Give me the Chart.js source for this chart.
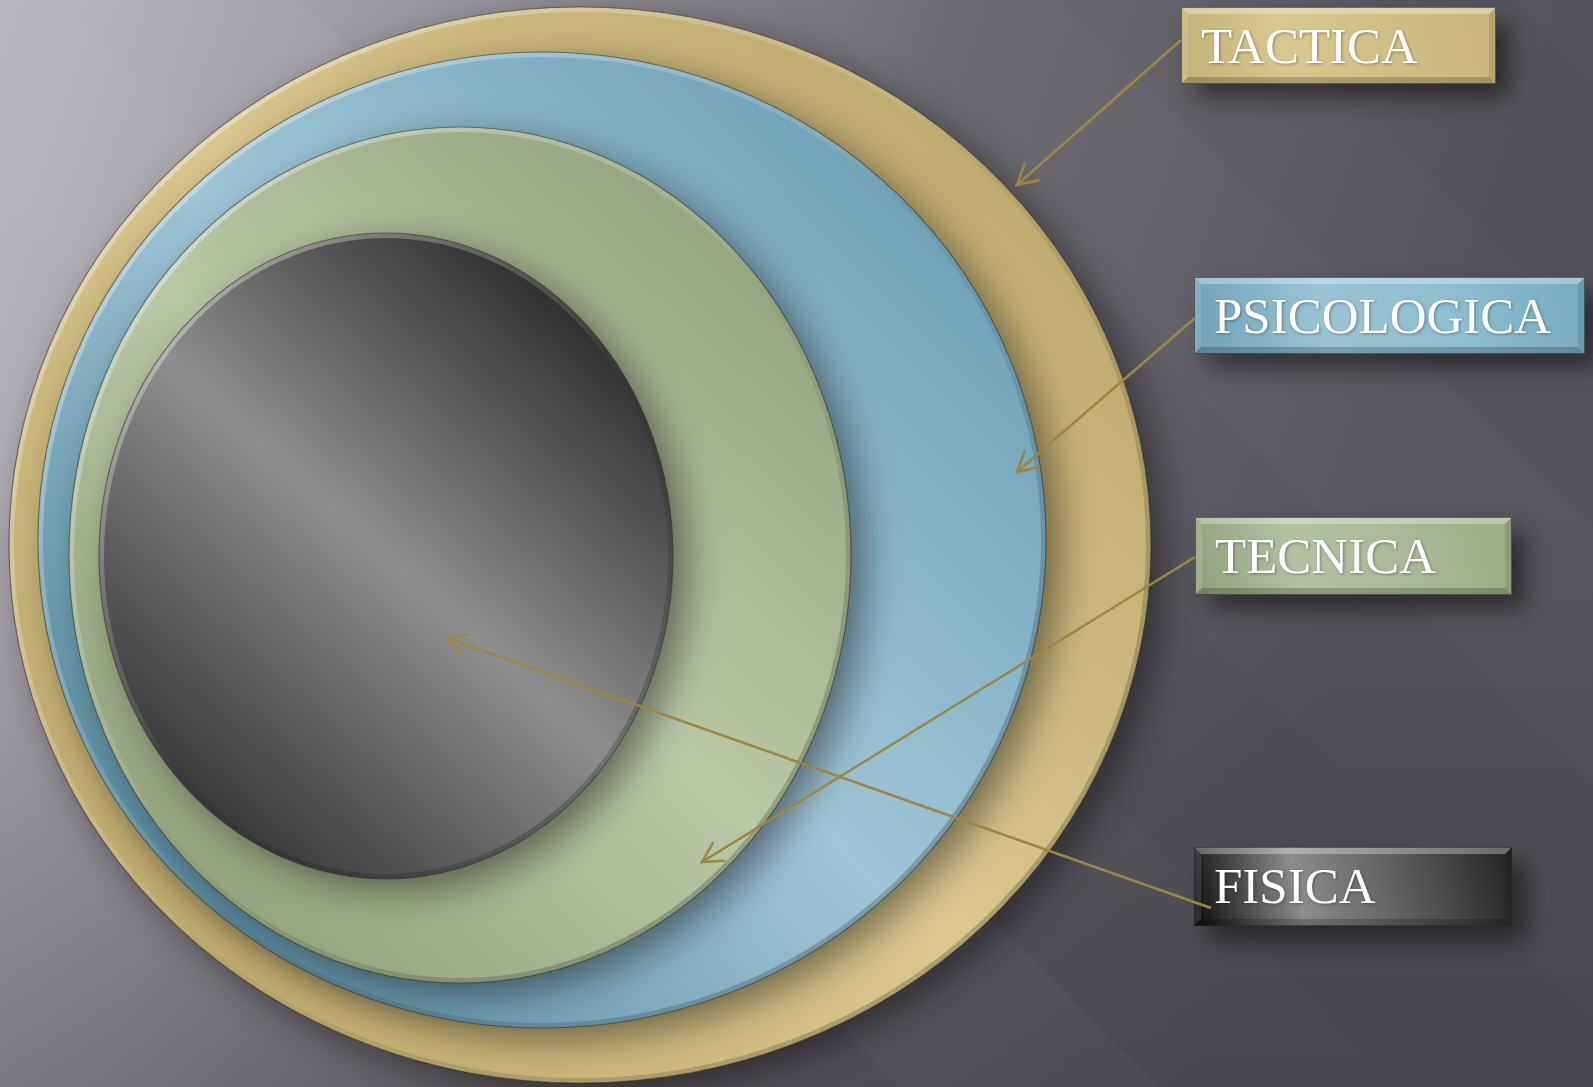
<!DOCTYPE html>
<html>
<head>
<meta charset="utf-8">
<script src="https://cdn.jsdelivr.net/npm/chart.js@4.4.0/dist/chart.umd.min.js"></script>
<style>
  html, body { margin: 0; padding: 0; background: #5a585f; overflow: hidden; }
  #wrap { width: 1593px; height: 1087px; position: relative; }
</style>
</head>
<body>
<div id="wrap"><canvas id="capasChart"></canvas></div>
<script>
// Capas del diagrama, de dentro hacia fuera
const layers = ['FISICA', 'TECNICA', 'PSICOLOGICA', 'TACTICA'];
// Elipses (unidades de la escala: 0..1593 en x, 0..1087 en y)
const centerX = [386, 460, 542, 580];
const centerY = [556, 555, 540, 545];
const radiusX = [287, 391, 504, 571];
const radiusY = [323, 428, 488, 538];
// Flechas: desde la etiqueta hasta la capa
const arrowFromX = [1211, 1195, 1195, 1181];
const arrowFromY = [908, 557, 318, 40];
const arrowToX = [447, 702, 1017, 1017];
const arrowToY = [638, 862, 472, 185];

// Cajas de las etiquetas (posicion / tamano)
const boxLeft = [1194, 1195, 1194, 1181];
const boxTop = [847, 517, 277, 7];
const boxWidth = [318, 317, 391, 315];
const boxHeight = [79, 78, 77, 77];

// Colores de cada capa (degradado)
const layerStops = [
    ['#353535', '#8e8e8e', '#2c2c2c'],
    ['#93a37b', '#bac8a7', '#95a47d'],
    ['#5b8da2', '#a0c6d7', '#6ea2b7'],
    ['#bfab6d', '#dac88f', '#bda96d']
];
const boxStops = [
    ['#0b0b0b', '#8c8c8c', '#5a5a5a', '#232323'],
    ['#8fa07a', '#b4c2a2', '#a9b896', '#9cac87'],
    ['#6ca1b7', '#9ac4d5', '#8dbdd0', '#76abc0'],
    ['#c2b074', '#d7c891', '#d0bf85', '#c8b67a']
];
const arrowColor = '#9b8742';

function ellipsePath(c, x, y, rx, ry) {
    c.beginPath();
    c.ellipse(x, y, rx, ry, 0, 0, Math.PI * 2);
}

const diagramPlugin = {
    id: 'diagrama',
    beforeDraw(chart) {
        const c = chart.ctx, w = chart.width, h = chart.height;
        c.save();
        const bg = c.createLinearGradient(0, 0, 1400, 490);
        bg.addColorStop(0, '#b9b6bd');
        bg.addColorStop(0.3, '#9b98a0');
        bg.addColorStop(0.62, '#6b6970');
        bg.addColorStop(1, '#57555c');
        c.fillStyle = bg;
        c.fillRect(0, 0, w, h);
        // vineta inferior
        const v = c.createLinearGradient(0, 500, 0, h);
        v.addColorStop(0, 'rgba(40,38,45,0)');
        v.addColorStop(1, 'rgba(40,38,45,0.3)');
        c.fillStyle = v;
        c.fillRect(0, 0, w, h);
        // bandas diagonales suaves
        const bands = [[-200, 0.025], [300, -0.02], [800, 0.02], [1250, -0.015]];
        bands.forEach(([off, a]) => {
            c.beginPath();
            c.moveTo(off, 0);
            c.lineTo(off + 260, 0);
            c.lineTo(off + 260 + 1100, h);
            c.lineTo(off + 1100, h);
            c.closePath();
            c.fillStyle = a > 0 ? 'rgba(255,255,255,' + a + ')' : 'rgba(0,0,0,' + (-a) + ')';
            c.fill();
        });
        c.restore();
    },
    beforeDatasetsDraw(chart) {
        const c = chart.ctx;
        const xs = chart.scales.x, ys = chart.scales.y;
        // capas, de fuera hacia dentro
        for (let i = layers.length - 1; i >= 0; i--) {
            const x = xs.getPixelForValue(centerX[i]);
            const y = ys.getPixelForValue(centerY[i]);
            const rx = Math.abs(xs.getPixelForValue(centerX[i] + radiusX[i]) - x);
            const ry = Math.abs(ys.getPixelForValue(centerY[i] + radiusY[i]) - y);
            c.save();
            c.shadowColor = 'rgba(0,0,0,0.45)';
            c.shadowBlur = 38;
            c.shadowOffsetX = 14;
            c.shadowOffsetY = 12;
            const g = c.createLinearGradient(x - rx * 0.75, y + ry * 0.75, x + rx * 0.75, y - ry * 0.75);
            layerStops[i].forEach((s, k) => g.addColorStop(k / (layerStops[i].length - 1), s));
            ellipsePath(c, x, y, rx, ry);
            c.fillStyle = g;
            c.fill();
            c.restore();
            // bisel
            c.save();
            ellipsePath(c, x, y, rx, ry);
            c.clip();
            const b = c.createLinearGradient(x - rx, y - ry, x + rx, y + ry);
            b.addColorStop(0, 'rgba(255,255,255,0.45)');
            b.addColorStop(0.45, 'rgba(255,255,255,0.1)');
            b.addColorStop(0.55, 'rgba(0,0,0,0.05)');
            b.addColorStop(1, 'rgba(0,0,0,0.28)');
            c.lineWidth = 10;
            c.strokeStyle = b;
            c.stroke();
            c.restore();
            c.save();
            ellipsePath(c, x, y, rx, ry);
            c.lineWidth = 1.2;
            c.strokeStyle = 'rgba(50,46,40,0.55)';
            c.stroke();
            c.restore();
        }
        // cajas de etiquetas
        layers.forEach((name, i) => {
            const x0 = xs.getPixelForValue(boxLeft[i]);
            const y0 = ys.getPixelForValue(boxTop[i]);
            const bw = xs.getPixelForValue(boxLeft[i] + boxWidth[i]) - x0;
            const bh = ys.getPixelForValue(boxTop[i] + boxHeight[i]) - y0;
            c.save();
            c.shadowColor = 'rgba(0,0,0,0.5)';
            c.shadowBlur = 24;
            c.shadowOffsetX = 14;
            c.shadowOffsetY = 14;
            const g = c.createLinearGradient(x0, y0 + bh, x0 + bw, y0);
            boxStops[i].forEach((s, k) => g.addColorStop(k / (boxStops[i].length - 1), s));
            c.fillStyle = g;
            c.fillRect(x0, y0, bw, bh);
            c.restore();
            const e = 7;
            const bevel = (pts, col) => {
                c.beginPath();
                c.moveTo(pts[0][0], pts[0][1]);
                pts.slice(1).forEach(p => c.lineTo(p[0], p[1]));
                c.closePath();
                c.fillStyle = col;
                c.fill();
            };
            c.save();
            bevel([[x0, y0], [x0 + bw, y0], [x0 + bw - e, y0 + e], [x0 + e, y0 + e]], 'rgba(255,255,255,0.32)');
            bevel([[x0, y0], [x0 + e, y0 + e], [x0 + e, y0 + bh - e], [x0, y0 + bh]], 'rgba(255,255,255,0.12)');
            bevel([[x0, y0 + bh], [x0 + e, y0 + bh - e], [x0 + bw - e, y0 + bh - e], [x0 + bw, y0 + bh]], 'rgba(0,0,0,0.2)');
            bevel([[x0 + bw, y0], [x0 + bw, y0 + bh], [x0 + bw - e, y0 + bh - e], [x0 + bw - e, y0 + e]], 'rgba(0,0,0,0.1)');
            c.strokeStyle = 'rgba(40,38,36,0.6)';
            c.lineWidth = 1;
            c.strokeRect(x0 + 0.5, y0 + 0.5, bw - 1, bh - 1);
            c.fillStyle = '#ffffff';
            c.font = '51px "Liberation Serif", "DejaVu Serif", serif';
            c.textBaseline = 'alphabetic';
            c.shadowColor = 'rgba(0,0,0,0.35)';
            c.shadowBlur = 3;
            c.shadowOffsetX = 1;
            c.shadowOffsetY = 1;
            c.fillText(name, x0 + 20, y0 + 56);
            c.restore();
        });
    },
    afterDatasetsDraw(chart) {
        const c = chart.ctx;
        const xs = chart.scales.x, ys = chart.scales.y;
        layers.forEach((name, i) => {
            const x1 = xs.getPixelForValue(arrowFromX[i]), y1 = ys.getPixelForValue(arrowFromY[i]);
            const x2 = xs.getPixelForValue(arrowToX[i]), y2 = ys.getPixelForValue(arrowToY[i]);
            const ang = Math.atan2(y2 - y1, x2 - x1);
            const len = 22, spread = 0.5;
            c.save();
            c.strokeStyle = arrowColor;
            c.lineWidth = 2.6;
            c.lineCap = 'round';
            c.beginPath();
            c.moveTo(x2 - len * Math.cos(ang - spread), y2 - len * Math.sin(ang - spread));
            c.lineTo(x2, y2);
            c.lineTo(x2 - len * Math.cos(ang + spread), y2 - len * Math.sin(ang + spread));
            c.stroke();
            c.restore();
        });
    }
};

const ctx = document.getElementById('capasChart').getContext('2d');
const capasChart = new Chart(ctx, {
    type: 'scatter',
    data: {
        datasets: layers.map((name, i) => ({
            label: name,
            data: [{ x: arrowFromX[i], y: arrowFromY[i] }, { x: arrowToX[i], y: arrowToY[i] }],
            showLine: true,
            borderColor: arrowColor,
            borderWidth: 2.6,
            pointRadius: 0
        }))
    },
    options: {
        animation: false,
        responsive: true,
        maintainAspectRatio: false,
        layout: { padding: 0 },
        scales: {
            x: { type: 'linear', min: 0, max: 1593, display: false },
            y: { type: 'linear', min: 0, max: 1087, reverse: true, display: false }
        },
        plugins: {
            legend: { display: false },
            tooltip: { enabled: false }
        }
    },
    plugins: [diagramPlugin]
});
</script>
</body>
</html>
